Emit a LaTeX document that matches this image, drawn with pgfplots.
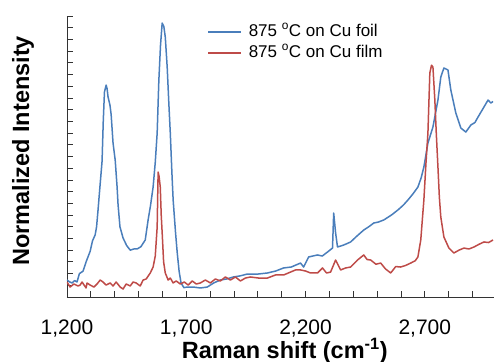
\documentclass[border=0pt]{standalone}
\usepackage{fontspec}
\setmainfont{Liberation Sans}
\usepackage{pgfplots}
\pgfplotsset{compat=1.18}
\definecolor{cblue}{HTML}{4A7EBB}
\definecolor{cred}{HTML}{BE4B48}
\begin{document}
\begin{tikzpicture}
\path[use as bounding box] (-67bp,-65bp) rectangle (427bp,297bp);
\begin{axis}[
  scale only axis, width=427bp, height=281bp,
  xmin=1200, xmax=2990, ymin=0, ymax=24,
  axis x line*=bottom, axis y line*=left,
  axis line style={line width=0.8bp, black!80},
  tick align=inside,
  major tick length=6bp,
  tick style={line width=0.8bp, black!80},
  xtick={1200,1300,...,2900},
  xticklabels={1{,}200,,,,,1{,}700,,,,,2{,}200,,,,,2{,}700,,},
  ytick={0,1,...,24}, yticklabels={},
  xticklabel style={font=\fontsize{21bp}{25bp}\selectfont, anchor=base, yshift=-37bp},
  xlabel={Raman shift (cm\textsuperscript{-1})},
  ylabel={Normalized Intensity},
  xlabel style={at={([yshift=-61bp]axis description cs:0.51,0)}, anchor=base, font=\fontsize{23.5bp}{27bp}\selectfont\bfseries},
  ylabel style={at={([xshift=-44bp]axis description cs:0,0.52)}, anchor=center, font=\fontsize{23.5bp}{27bp}\selectfont\bfseries},
  legend style={at={(axis description cs:0.328,0.9715)}, anchor=north west, draw=none, fill=none, inner sep=0pt,
    font=\fontsize{17bp}{20bp}\selectfont, row sep=5bp, column sep=7bp,
    nodes={inner sep=0pt, text height=12bp, text depth=4bp}},
  legend cell align=left,
  legend image code/.code={\draw[#1] (0bp,0bp) -- (33bp,0bp);},
  every axis plot post/.append style={line width=1.5bp, line join=round},
]
\addplot[cblue] coordinates {
(1200,1.45) (1210,1.30) (1221,1.20) (1232,1.40) (1242,1.28) (1252,2.00) (1267,2.20)
(1280,3.00) (1297,3.90) (1307,4.80) (1318,5.30) (1324,6.00) (1330,7.40) (1338,9.40)
(1347,11.60) (1352,15.00) (1357,17.50) (1364,18.10) (1368,17.80) (1372,17.10)
(1380,16.40) (1385,15.60) (1393,13.15) (1402,11.70) (1410,9.40) (1414,7.90)
(1422,6.00) (1435,5.04) (1450,4.40) (1465,4.00) (1480,4.10) (1494,4.10) (1510,4.30)
(1528,4.87) (1540,6.58) (1550,7.80) (1561,9.39) (1570,11.5) (1578,14.01) (1585,18.5)
(1592,21.5) (1599,23.40) (1606,23.10) (1612,22.20) (1620,19.64) (1627,16.5) (1633,14.01)
(1640,10.5) (1645,8.28) (1655,5.50) (1662,3.80) (1670,2.20) (1678,1.20) (1690,0.80)
(1704,0.85) (1730,0.85) (1759,0.77) (1788,0.85) (1815,1.20) (1843,1.45) (1870,1.54)
(1897,1.71) (1925,1.80) (1956,1.96) (2000,1.96) (2040,2.05) (2075,2.22) (2108,2.48)
(2140,2.56) (2179,2.90) (2192,2.56) (2213,3.42) (2250,3.59) (2270,3.50) (2292,3.84)
(2313,4.18) (2318,7.17) (2326,5.47) (2334,4.27) (2360,4.44) (2389,4.70) (2415,5.20)
(2444,5.72) (2465,6.00) (2486,6.32) (2505,6.40) (2528,6.58) (2560,7.00) (2587,7.43)
(2610,7.85) (2629,8.28) (2650,8.80) (2671,9.39) (2685,10.2) (2696,11.10) (2713,13.15)
(2734,14.52) (2755,16.82) (2767,18.79) (2780,19.56) (2797,19.39) (2809,17.68)
(2830,15.71) (2851,14.43) (2872,14.09) (2893,14.69) (2910,14.90) (2923,15.37)
(2948,16.23) (2965,16.82) (2977,16.57) (2986,16.70)
};
\addlegendentry{875 \textsuperscript{o}C on Cu foil}
\addplot[cred] coordinates {
(1200,1.28) (1213,0.85) (1229,1.11) (1246,0.94) (1255,1.02) (1263,1.28) (1280,0.77)
(1284,1.20) (1297,1.02) (1313,0.85) (1326,1.11) (1339,1.45) (1351,1.28) (1364,1.02)
(1381,1.20) (1393,0.94) (1406,1.28) (1423,0.85) (1435,0.68) (1448,1.11) (1465,0.94)
(1477,1.28) (1490,1.20) (1507,0.94) (1519,1.45) (1532,1.54) (1549,2.05) (1561,2.56)
(1570,3.50) (1578,5.98) (1582,10.67) (1586,10.30) (1591,9.39) (1595,7.00) (1599,5.47)
(1605,3.00) (1612,2.05) (1624,1.45) (1633,1.62)
(1645,1.20) (1658,1.37) (1675,1.11) (1692,1.28) (1708,1.02) (1725,1.37) (1742,1.11)
(1759,1.20) (1780,1.45) (1801,1.20) (1822,1.54) (1843,1.37) (1864,1.71) (1885,1.45)
(1906,1.71) (1927,1.37) (1948,1.62) (1969,1.71) (2003,1.62) (2040,1.62) (2074,1.88)
(2108,1.88) (2137,2.13) (2158,2.31) (2179,2.31) (2200,2.22) (2221,2.05) (2250,2.05)
(2271,2.48) (2288,2.05) (2305,2.13) (2326,3.16) (2347,2.31) (2368,2.48) (2389,2.56)
(2418,3.16) (2444,3.59) (2458,3.20) (2473,3.16) (2495,2.80) (2515,2.90) (2535,2.40)
(2557,2.05) (2578,2.60) (2599,2.56) (2620,2.70) (2641,2.90) (2660,3.10) (2671,3.42)
(2683,4.87) (2696,8.28) (2705,11.5) (2713,14.01) (2721,19.13) (2728,19.80) (2734,19.64)
(2742,16.82) (2748,14.00) (2755,11.10) (2761,8.50) (2767,6.83) (2780,5.12) (2801,4.18)
(2822,3.76) (2843,4.00) (2864,4.18) (2885,4.10) (2906,4.27) (2927,4.50) (2948,4.70)
(2967,4.65) (2986,4.87)
};
\addlegendentry{875 \textsuperscript{o}C on Cu film}
\end{axis}
\end{tikzpicture}
\end{document}
